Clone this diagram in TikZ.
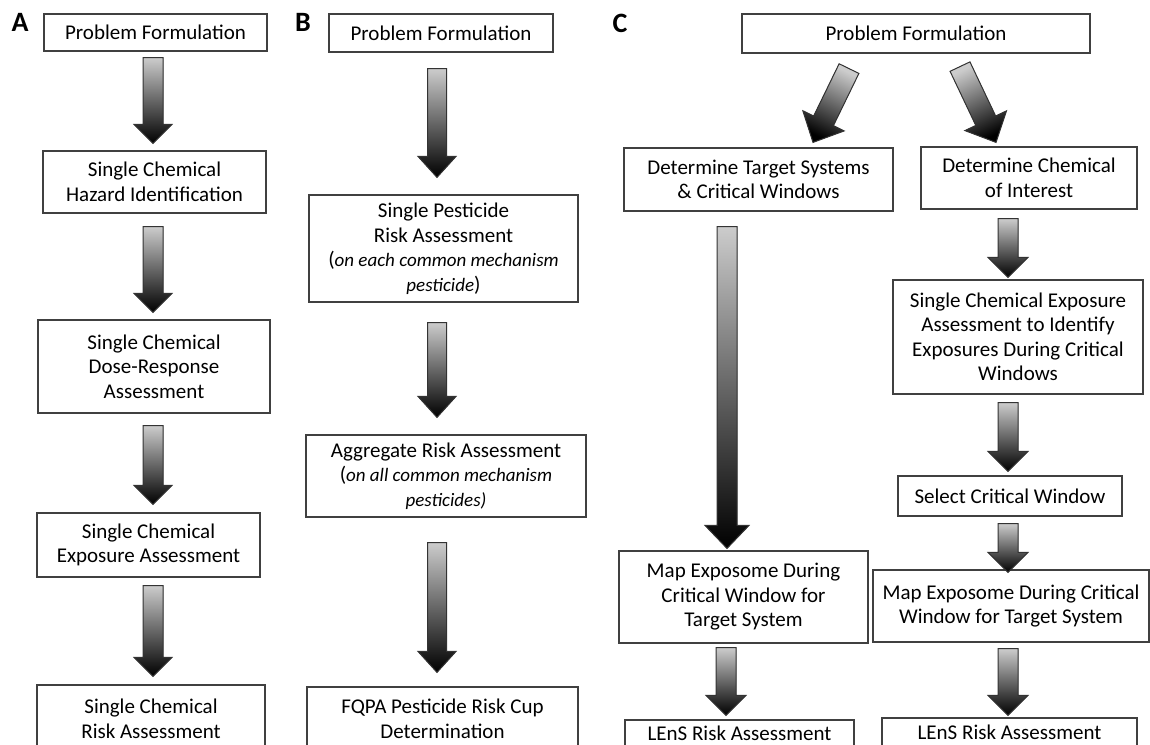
\documentclass[tikz,border=0pt]{standalone}
\usepackage{fontspec}
\setmainfont{Carlito}
\usetikzlibrary{calc}

% fat shaded arrow: [style]{tail}{tip}{shaft half width}{head half width}{head length}
\newcommand{\fatarrow}[6][]{%
  \coordinate (fs) at #2;
  \coordinate (fe) at #3;
  \coordinate (fb) at ($(fe)!#6!(fs)$);
  \filldraw[fat,#1] ($(fs)!#4!90:(fe)$) -- ($(fb)!#4!90:(fe)$) -- ($(fb)!#5!90:(fe)$) -- (fe)
    -- ($(fb)!#5!-90:(fe)$) -- ($(fb)!#4!-90:(fe)$) -- ($(fs)!#4!-90:(fe)$) -- cycle;
}
\newcommand{\mech}[1]{{\fontsize{19}{22}\selectfont\itshape #1}}

\begin{document}
\begin{tikzpicture}[x=1pt,y=-1pt]
		\tikzstyle{box}=[draw=black!75, line width=1.2pt, align=center, inner sep=2pt, font=\fontsize{21}{24.5}\selectfont]
		\tikzstyle{fat}=[draw=black!80, line width=1pt, top color=black!20, bottom color=black]
		\tikzstyle{panel}=[font=\fontsize{28}{30}\selectfont\bfseries]
		
		\clip (0,0) rectangle (1150,744);
		
		% panel A
		\node[panel] (labA) at (20,22) {A};
		\node[box, minimum width=223pt, minimum height=37pt] (a1) at (155.5,32.5) {Problem Formulation};
		\node[box, minimum width=223pt, minimum height=62pt] (a2) at (154.5,182) {Single Chemical\\Hazard Identification};
		\node[box, minimum width=232pt, minimum height=93pt] (a3) at (154,366.5) {Single Chemical\\Dose-Response\\Assessment};
		\node[box, minimum width=223pt, minimum height=64pt] (a4) at (148.5,545) {Single Chemical\\Exposure Assessment};
		\node[box, minimum width=228pt, minimum height=68pt] (a5) at (151,719) {Single Chemical\\Risk Assessment};
		
		\fatarrow{($(a1.south)+(-2.5,6)$)}{($(a2.north)+(-1.5,-7)$)}{10pt}{19pt}{19pt}
		\fatarrow{($(a2.south)+(-1.5,13)$)}{($(a3.north)+(-1,-7)$)}{10pt}{19pt}{19pt}
		\fatarrow{($(a3.south)+(-1,12)$)}{($(a4.north)+(4.5,-8)$)}{10pt}{19pt}{19pt}
		\fatarrow{($(a4.south)+(4.5,8)$)}{($(a5.north)+(2,-8)$)}{10pt}{19pt}{19pt}
		
		% panel B
		\node[panel] (labB) at (303,22) {B};
		\node[box, minimum width=224pt, minimum height=38pt] (b1) at (441,33) {Problem Formulation};
		\node[box, minimum width=269pt, minimum height=107pt] (b2) at (443.5,248.5) {Single Pesticide\\Risk Assessment\\(\mech{on each common mechanism}\\\mech{pesticide})};
		\node[box, minimum width=280pt, minimum height=82pt] (b3) at (446,476) {Aggregate Risk Assessment\\(\mech{on all common mechanism}\\\mech{pesticides)}};
		\node[box, minimum width=271pt, minimum height=64pt] (b4) at (442.5,719) {FQPA Pesticide Risk Cup\\Determination};
		
		\fatarrow{($(b1.south)+(-4,16)$)}{($(b2.north)+(-6.5,-17)$)}{9.5pt}{19pt}{21pt}
		\fatarrow{($(b2.south)+(-6.5,20)$)}{($(b3.north)+(-9,-17)$)}{9.5pt}{19pt}{21pt}
		\fatarrow{($(b3.south)+(-9,25)$)}{($(b4.north)+(-5.5,-14)$)}{9.5pt}{19pt}{21pt}
		
		% panel C
		\node[panel] (labC) at (620,23) {C};
		\node[box, minimum width=348pt, minimum height=39pt] (c1) at (916,33.5) {Problem Formulation};
		\node[box, minimum width=269pt, minimum height=63pt] (c2) at (758.5,179.5) {Determine Target Systems\\\& Critical Windows};
		\node[box, minimum width=216pt, minimum height=62pt] (c3) at (1029,178) {Determine Chemical\\of Interest};
		\node[box, minimum width=250pt, minimum height=114pt] (c4) at (1018,337) {Single Chemical Exposure\\Assessment to Identify\\Exposures During Critical\\Windows};
		\node[box, minimum width=224pt, minimum height=40pt] (c5) at (1010,496) {Select Critical Window};
		\node[box, minimum width=249pt, minimum height=92pt] (c6) at (743.5,597) {Map Exposome During\\Critical Window for\\Target System};
		\node[box, minimum width=276pt, minimum height=72pt] (c7) at (1011,606) {Map Exposome During Critical\\Window for Target System};
		\node[box, minimum width=229pt, minimum height=28pt, text depth=2pt] (c8) at (739.5,734) {LEnS Risk Assessment};
		\node[box, minimum width=255pt, minimum height=30pt, text depth=2pt] (c9) at (1009.5,733) {LEnS Risk Assessment};
		
		\fatarrow[shading angle=-26]{($(c1.south)+(-67,15)$)}{($(c2.north)+(54.5,-5)$)}{11pt}{23pt}{24pt}
		\fatarrow[shading angle=26]{($(c1.south)+(44,13)$)}{($(c3.north)+(-33,-4)$)}{11pt}{23pt}{24pt}
		\fatarrow{($(c2.south)+(-31.5,15)$)}{($(c6.north)+(-16.5,-2)$)}{10pt}{22pt}{23pt}
		\fatarrow{($(c6.south)+(-17.5,4)$)}{($(c8.north)+(-13.5,-4)$)}{10pt}{20pt}{20pt}
		\fatarrow{($(c3.south)+(-21,9)$)}{($(c4.north)+(-10,-2)$)}{10pt}{20pt}{20pt}
		\fatarrow{($(c4.south)+(-10,8)$)}{($(c5.north)+(-2,-4)$)}{10pt}{20pt}{20pt}
		\fatarrow{($(c5.south)+(-2,7)$)}{($(c7.north)+(-3,3)$)}{10pt}{20pt}{20pt}
		\fatarrow{($(c7.south)+(-3,6)$)}{($(c9.north)+(-1.5,-2)$)}{10pt}{20pt}{20pt}
\end{tikzpicture}
\end{document}
